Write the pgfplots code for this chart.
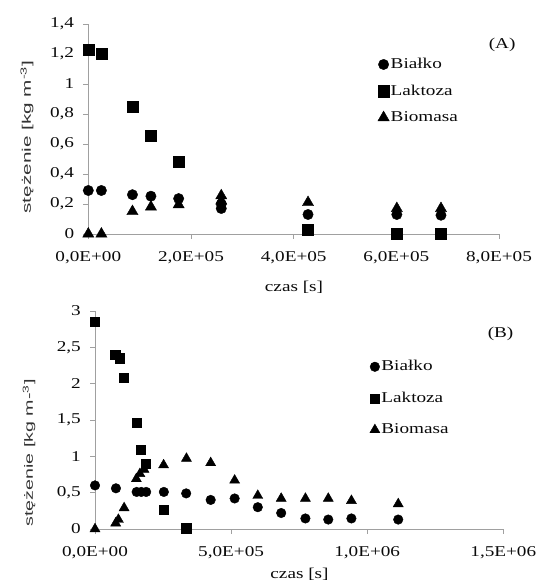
\documentclass[border=0pt]{standalone}
\usepackage{graphicx}
\usepackage{pgfplots}
\pgfplotsset{compat=1.18}
\usepackage{fontspec}
\setmainfont{Liberation Serif}[FakeStretch=1.28]
\newfontfamily\labfont{Liberation Sans}
\definecolor{axgray}{HTML}{A0A0A0}
\definecolor{txt}{HTML}{0A0A0A}
\pgfplotsset{
  common/.style={
    scale only axis,
    anchor=south west,
    axis x line*=bottom,
    axis y line*=left,
    axis line style={draw=axgray, line width=0.9pt},
    tick style={draw=axgray, line width=0.9pt},
    tick align=outside,
    major tick length=5pt,
    clip=false,
    scaled x ticks=false,
    scaled y ticks=false,
    tick label style={text=txt, font=\fontsize{15pt}{18pt}\selectfont},
    xticklabel style={yshift=-7pt},
    yticklabel style={xshift=-4pt},
    legend cell align=left,
    legend image code/.code={\draw[##1] plot coordinates {(0pt,0pt)};},
  }
}
\begin{document}
\fontsize{15pt}{18pt}\selectfont
\begin{tikzpicture}
\useasboundingbox (0pt,0pt) rectangle (538pt,587pt);
% ---------------- (A) ----------------
\begin{axis}[common,
  at={(88.3pt,353pt)}, width=410.7pt, height=210pt,
  xmin=0, xmax=8e5, ymin=0, ymax=1.4,
  xtick={0,2e5,4e5,6e5,8e5},
  xticklabels={{0,0E+00},{2,0E+05},{4,0E+05},{6,0E+05},{8,0E+05}},
  ytick={0,0.2,0.4,0.6,0.8,1,1.2,1.4},
  yticklabels={0,{0,2},{0,4},{0,6},{0,8},1,{1,2},{1,4}},
  legend style={draw=none, fill=none, at={(axis cs:5.58e5,0.954)}, anchor=west,
    row sep=12pt, column sep=0pt, text=txt, font=\fontsize{15pt}{18pt}\selectfont,
    nodes={inner ysep=1pt, inner xsep=1.5pt}},
]
\addplot[only marks, mark=*, mark size=5.2pt, black] coordinates {
(0,0.29) (2.55e4,0.29) (8.6e4,0.262) (1.22e5,0.252) (1.76e5,0.236)
(2.59e5,0.17) (2.59e5,0.20) (4.28e5,0.13) (6.01e5,0.13) (6.87e5,0.125)};
\addlegendentry{Białko}
\addplot[only marks, mark=square*, mark size=5.6pt, black] coordinates {
(0,1.23) (2.55e4,1.20) (8.6e4,0.847) (1.22e5,0.655) (1.76e5,0.482)
(4.28e5,0.027) (6.01e5,0.004) (6.87e5,0.004)};
\addlegendentry{Laktoza}
\addplot[only marks, mark=triangle*, mark size=6.5pt, black] coordinates {
(0,0) (2.55e4,0) (8.6e4,0.15) (1.22e5,0.18) (1.76e5,0.195)
(2.59e5,0.22) (2.59e5,0.255) (4.28e5,0.21) (6.01e5,0.17) (6.87e5,0.17)};
\addlegendentry{Biomasa}
\node[text=txt, font=\fontsize{15pt}{18pt}\selectfont] at (axis cs:8.06e5,1.263) {(A)};
\end{axis}
% ---------------- (B) ----------------
\begin{axis}[common,
  at={(95pt,58pt)}, width=408.3pt, height=218pt,
  xmin=0, xmax=1.5e6, ymin=0, ymax=3,
  xtick={0,5e5,1e6,1.5e6},
  xticklabels={{0,0E+00},{5,0E+05},{1,0E+06},{1,5E+06}},
  ytick={0,0.5,1,1.5,2,2.5,3},
  yticklabels={0,{0,5},1,{1,5},2,{2,5},3},
  legend style={draw=none, fill=none, at={(axis cs:9.98e5,1.8)}, anchor=west,
    row sep=17pt, column sep=0pt, text=txt, font=\fontsize{15pt}{18pt}\selectfont,
    nodes={inner ysep=1pt, inner xsep=1.5pt}},
]
\addplot[only marks, mark=*, mark size=4.8pt, black] coordinates {
(0,0.60) (7.7e4,0.56) (1.53e5,0.51) (1.70e5,0.51) (1.88e5,0.51)
(2.53e5,0.51) (3.35e5,0.49) (4.25e5,0.40) (5.13e5,0.42) (5.98e5,0.30)
(6.84e5,0.22) (7.73e5,0.145) (8.57e5,0.13) (9.42e5,0.145) (1.114e6,0.13)};
\addlegendentry{Białko}
\addplot[only marks, mark=square*, mark size=4.6pt, black] coordinates {
(0,2.85) (7.4e4,2.40) (9.0e4,2.35) (1.06e5,2.08) (1.52e5,1.46)
(1.68e5,1.09) (1.86e5,0.90) (2.52e5,0.27) (3.35e5,0.01)};
\addlegendentry{Laktoza}
\addplot[only marks, mark=triangle*, mark size=5.8pt, black] coordinates {
(0,0) (7.6e4,0.08) (8.6e4,0.13) (1.07e5,0.29) (1.52e5,0.69)
(1.65e5,0.76) (1.80e5,0.82) (2.52e5,0.88) (3.36e5,0.97) (4.25e5,0.91)
(5.13e5,0.67) (5.98e5,0.46) (6.84e5,0.42) (7.73e5,0.42) (8.57e5,0.42)
(9.42e5,0.39) (1.114e6,0.345)};
\addlegendentry{Biomasa}
\node[text=txt, font=\fontsize{15pt}{18pt}\selectfont] at (axis cs:1.49e6,2.68) {(B)};
\end{axis}
% ---------------- labels ----------------
\node[text=txt, anchor=base, font=\fontsize{15pt}{18pt}\selectfont] at (294pt,295pt) {czas [s]};
\node[text=txt, anchor=base, font=\fontsize{15pt}{18pt}\selectfont] at (299.5pt,9pt) {czas [s]};
\node[text=black!80, rotate=90] at (27pt,450pt) {\resizebox*{153pt}{13pt}{\labfont stężenie [kg m\textsuperscript{-3}]}};
\node[text=black!80, rotate=90] at (29pt,134pt) {\resizebox*{147pt}{12.5pt}{\labfont stężenie [kg m-\textsuperscript{3}]}};
\end{tikzpicture}
\end{document}
